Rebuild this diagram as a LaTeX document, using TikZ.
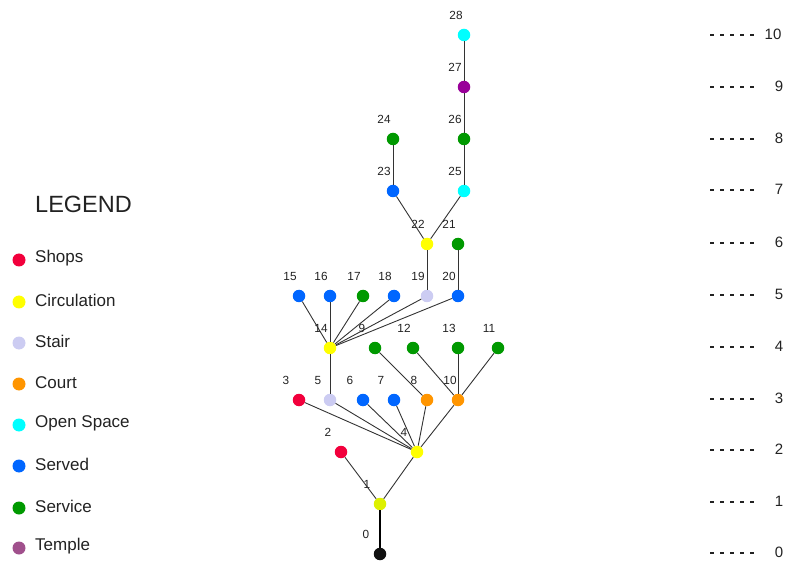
\documentclass[tikz,border=0pt]{standalone}
\usepackage{fontspec}
\setmainfont{Liberation Sans}
\definecolor{cshop}{HTML}{F2003C}
\definecolor{ccirc}{HTML}{FFFF00}
\definecolor{cstair}{HTML}{CCCCF2}
\definecolor{ccourt}{HTML}{FF9500}
\definecolor{copen}{HTML}{00FFFF}
\definecolor{cserved}{HTML}{0066FF}
\definecolor{cservice}{HTML}{009900}
\definecolor{ctemple}{HTML}{A0508C}
\definecolor{cpurple}{HTML}{990099}
\definecolor{clime}{HTML}{DDF000}
\definecolor{cblack}{HTML}{111111}
\definecolor{ctext}{HTML}{222222}
\newcommand\treenode[5]{%
  \node[dot, fill=#4] (n#1) at (#2,#3) {};
  \node[numlab] (l#1) at ({#2-#5},{#3-20}) {#1};}
\newcommand\legitem[4]{%
  \node[legdot, fill=#3] (ld#1) at (19,#2) {};
  \node[legtext] (lt#1) at (35,#2-1.5) {#4};}
\newcommand\levmark[3]{%
  \coordinate (la#1) at (710,#2);
  \coordinate (lb#1) at (754,#2);
  \draw[levdash] (la#1) -- (lb#1);
  \node[levtext] (lv#1) at (#3,#2-1) {#1};}
\begin{document}
\begin{tikzpicture}[x=1pt,y=-1pt,
  dot/.style={circle, inner sep=0pt, minimum size=12.5pt, draw=none},
  legdot/.style={circle, inner sep=0pt, minimum size=13pt, draw=none},
  numlab/.style={inner sep=0pt, font=\fontsize{11.8}{14}\selectfont, text=ctext},
  legtext/.style={anchor=west, inner sep=0pt, font=\fontsize{17}{20}\selectfont, text=ctext},
  levtext/.style={inner sep=0pt, font=\fontsize{15}{18}\selectfont, text=ctext},
  levdash/.style={draw=ctext, line width=1.3pt, dash pattern=on 4pt off 6pt},
  edge/.style={draw=black!80, line width=0.9pt}]
\useasboundingbox (0,0) rectangle (787,561);
% tree nodes
\treenode{0}{380}{554}{cblack}{14}
\treenode{1}{380}{504}{clime}{13}
\treenode{2}{341}{452}{cshop}{13}
\treenode{4}{417}{452}{ccirc}{13}
\treenode{3}{299}{400}{cshop}{13}
\treenode{5}{330}{400}{cstair}{12}
\treenode{6}{363}{400}{cserved}{13}
\treenode{7}{394}{400}{cserved}{13}
\treenode{8}{427}{400}{ccourt}{13}
\treenode{10}{458}{400}{ccourt}{8}
\treenode{14}{330}{348}{ccirc}{9}
\treenode{9}{375}{348}{cservice}{13}
\treenode{12}{413}{348}{cservice}{9}
\treenode{13}{458}{348}{cservice}{9}
\treenode{11}{498}{348}{cservice}{9}
\treenode{15}{299}{296}{cserved}{9}
\treenode{16}{330}{296}{cserved}{9}
\treenode{17}{363}{296}{cservice}{9}
\treenode{18}{394}{296}{cserved}{9}
\treenode{19}{427}{296}{cstair}{9}
\treenode{20}{458}{296}{cserved}{9}
\treenode{22}{427}{244}{ccirc}{9}
\treenode{21}{458}{244}{cservice}{9}
\treenode{23}{393}{191}{cserved}{9}
\treenode{25}{464}{191}{copen}{9}
\treenode{24}{393}{139}{cservice}{9}
\treenode{26}{464}{139}{cservice}{9}
\treenode{27}{464}{87}{cpurple}{9}
\treenode{28}{464}{35}{copen}{8}
% edges
\draw[edge, draw=black, line width=1.3pt] (n0) -- (n1);
\draw[edge] (n1) -- (n2);
\draw[edge] (n1) -- (n4);
\foreach \t in {3,5,6,7,8,10} {\draw[edge] (n4) -- (n\t);}
\draw[edge] (n5) -- (n14);
\foreach \t in {15,16,17,18,19,20} {\draw[edge] (n14) -- (n\t);}
\draw[edge] (n9) -- (n8);
\foreach \t in {12,13,11} {\draw[edge] (n10) -- (n\t);}
\draw[edge] (n19) -- (n22);
\draw[edge] (n20) -- (n21);
\draw[edge] (n22) -- (n23);
\draw[edge] (n22) -- (n25);
\draw[edge] (n23) -- (n24);
\draw[edge] (n25) -- (n26);
\draw[edge] (n26) -- (n27);
\draw[edge] (n27) -- (n28);
% legend
\node[anchor=west, inner sep=0pt, font=\fontsize{23.5}{28}\selectfont, text=ctext] (legtitle) at (35,204) {LEGEND};
\legitem{1}{260}{cshop}{Shops}
\legitem{2}{302}{ccirc}{Circulation}
\legitem{3}{343}{cstair}{Stair}
\legitem{4}{384}{ccourt}{Court}
\legitem{5}{425}{copen}{Open Space}
\legitem{6}{466}{cserved}{Served}
\legitem{7}{508}{cservice}{Service}
\legitem{8}{548}{ctemple}{Temple}
% level markers
\levmark{10}{35}{773}
\levmark{9}{87}{779}
\levmark{8}{139}{779}
\levmark{7}{190}{779}
\levmark{6}{243}{779}
\levmark{5}{295}{779}
\levmark{4}{347}{779}
\levmark{3}{399}{779}
\levmark{2}{450}{779}
\levmark{1}{502}{779}
\levmark{0}{553}{779}
\end{tikzpicture}
\end{document}
